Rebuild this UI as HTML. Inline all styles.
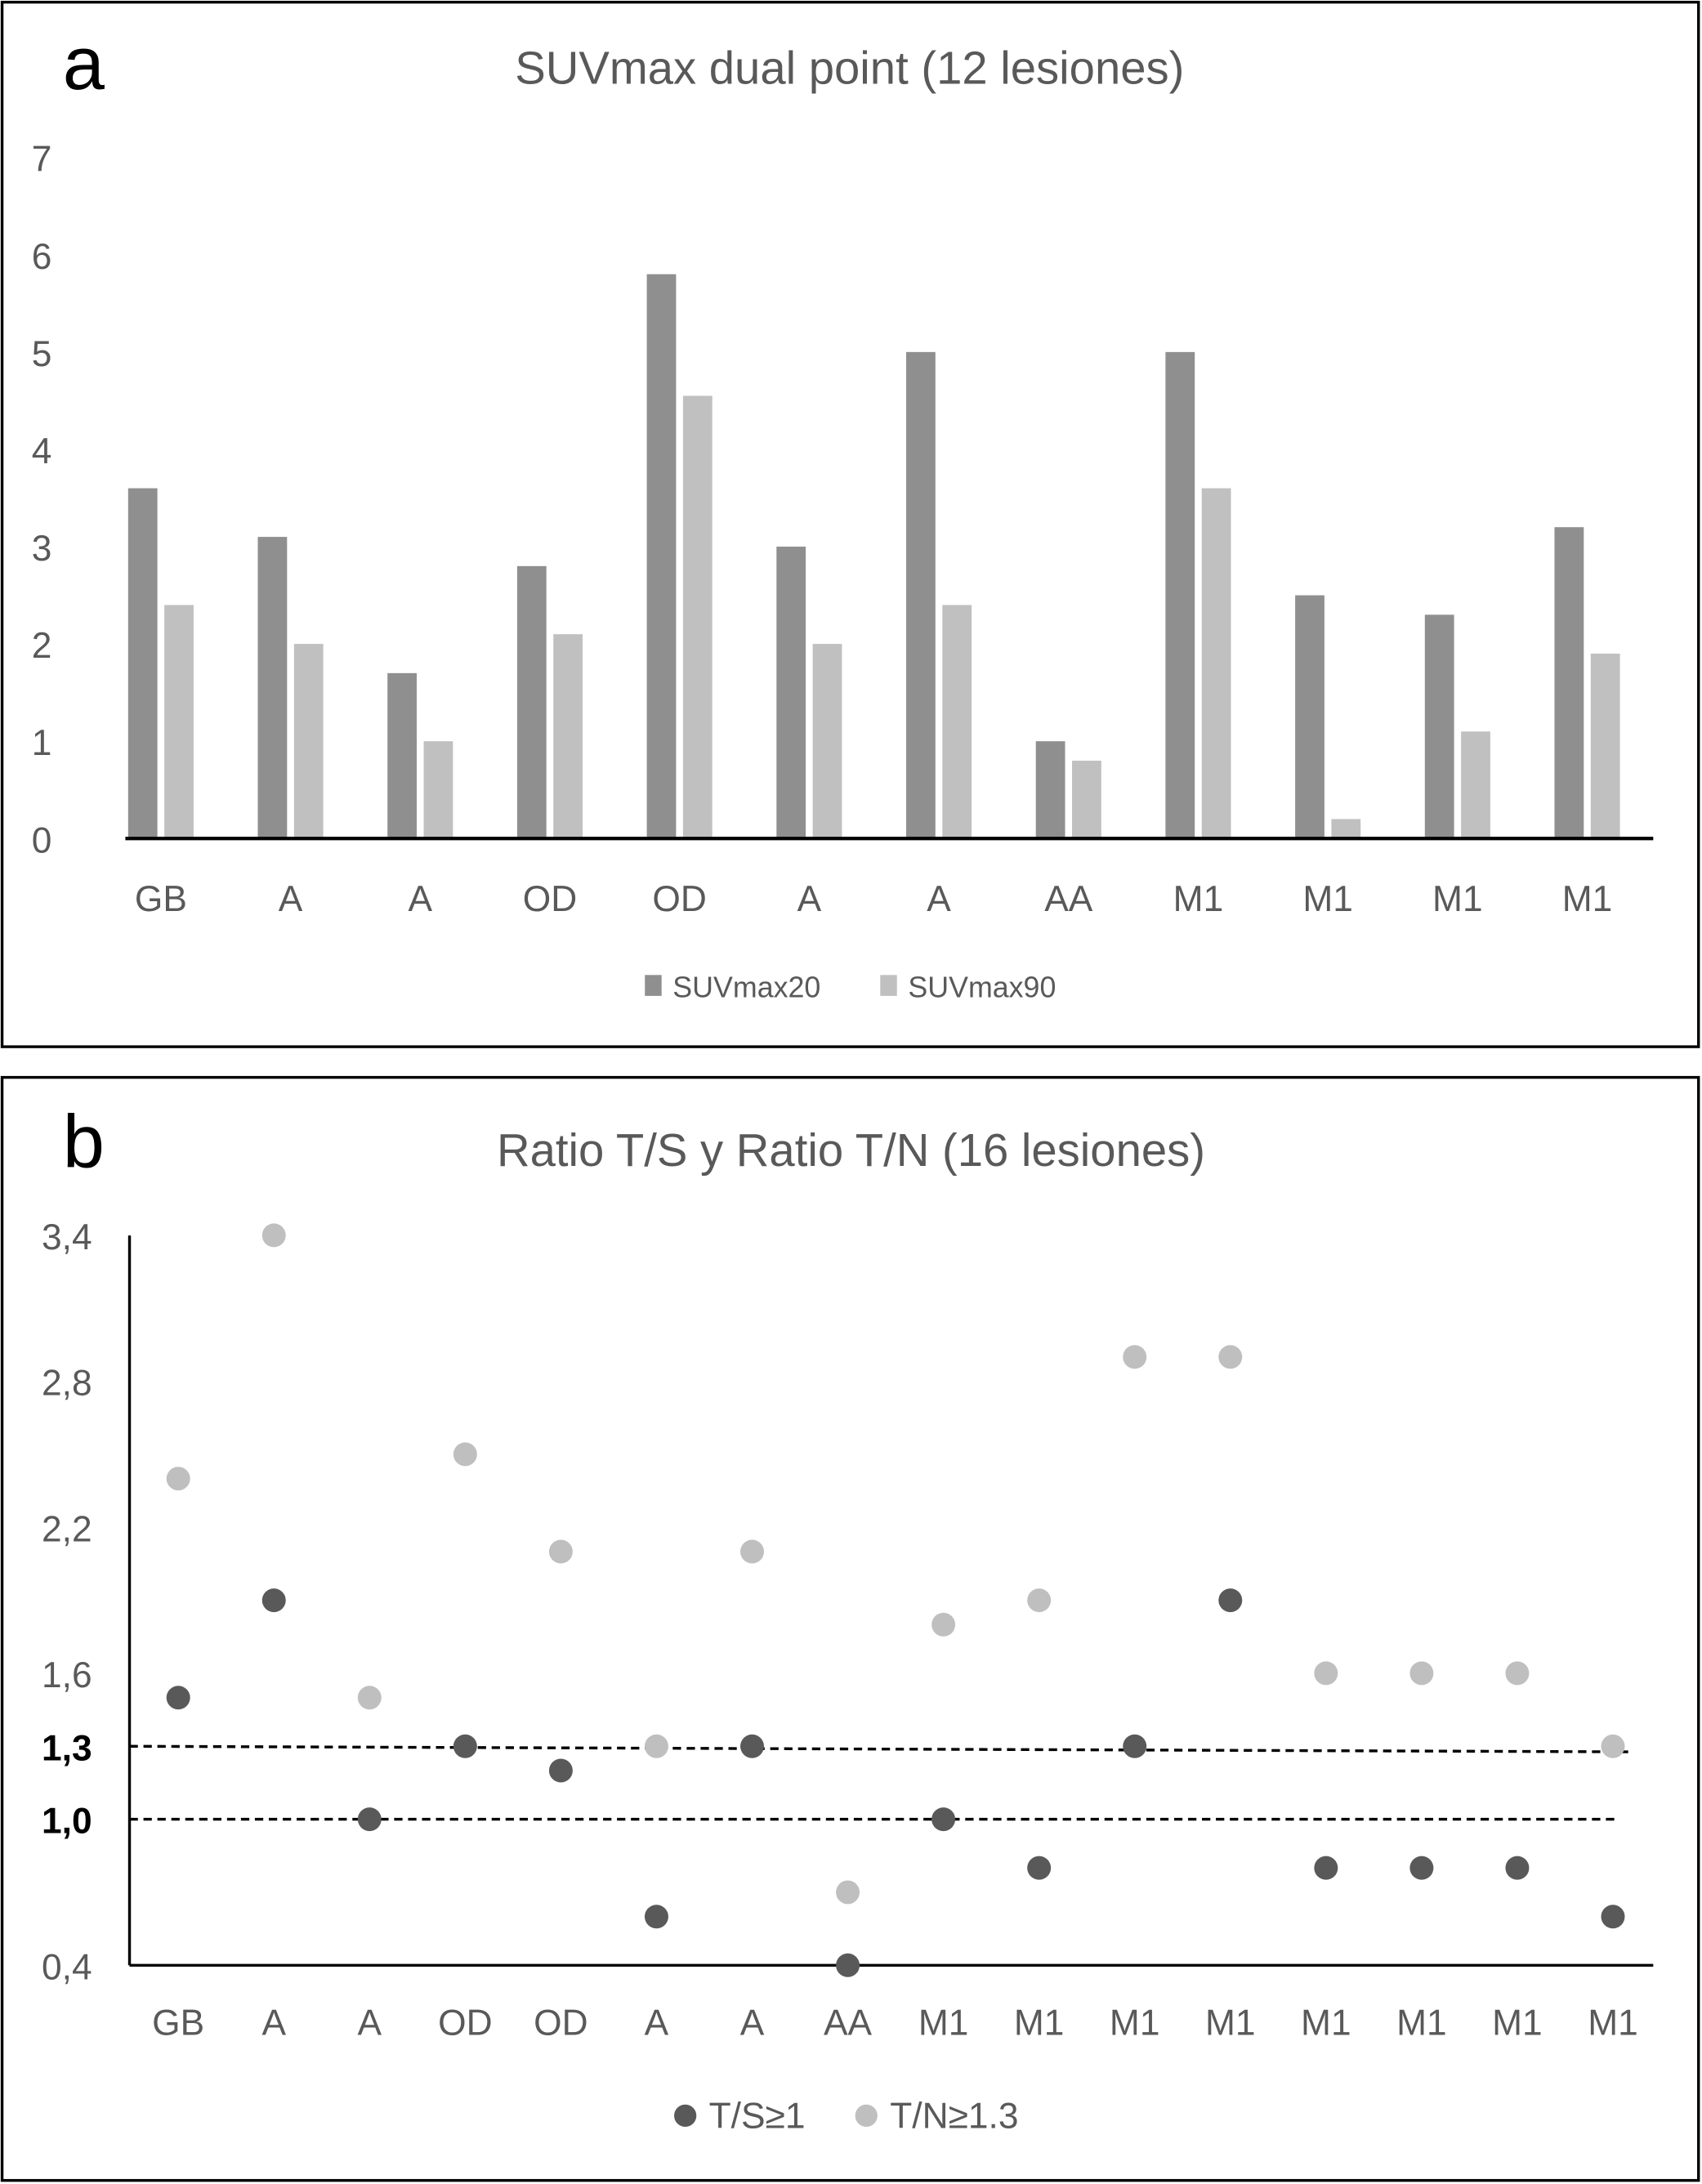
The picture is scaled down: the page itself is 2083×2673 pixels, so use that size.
<!DOCTYPE html>
<html><head><meta charset="utf-8"><style>
html,body{margin:0;padding:0;background:#fff}
svg{display:block}
text{font-family:"Liberation Sans",sans-serif}
</style></head><body>
<svg id="s" width="2083" height="2673" viewBox="0 0 1222 1568" xmlns="http://www.w3.org/2000/svg">
<rect x="1.5" y="1.5" width="1218" height="750" fill="#fff" stroke="#000" stroke-width="2"/>
<rect x="1.5" y="773.5" width="1218" height="792" fill="#fff" stroke="#000" stroke-width="2"/>
<text x="45" y="64" font-size="54" fill="#000">a</text>
<text x="610" y="60" font-size="33" fill="#595959" text-anchor="middle">SUVmax dual point (12 lesiones)</text>
<text x="45" y="838" font-size="54" fill="#000">b</text>
<text x="611" y="837" font-size="33" fill="#595959" text-anchor="middle">Ratio T/S y Ratio T/N (16 lesiones)</text>
<g id="ga"></g><g id="gb"></g>
</svg>
<script>
const catsA=["GB","A","A","OD","OD","A","A","AA","M1","M1","M1","M1"];
const suv20=[3.6,3.1,1.7,2.8,5.8,3.0,5.0,1.0,5.0,2.5,2.3,3.2];
const suv90=[2.4,2.0,1.0,2.1,4.55,2.0,2.4,0.8,3.6,0.2,1.1,1.9];
const ticksA=[0,1,2,3,4,5,6,7];
const catsB=["GB","A","A","OD","OD","A","A","AA","M1","M1","M1","M1","M1","M1","M1","M1"];
const ratioTS=[1.5,1.9,1.0,1.3,1.2,0.6,1.3,0.4,1.0,0.8,1.3,1.9,0.8,0.8,0.8,0.6];
const ratioTN=[2.4,3.4,1.5,2.5,2.1,1.3,2.1,0.7,1.8,1.9,2.9,2.9,1.6,1.6,1.6,1.3];
const ticksB=["3,4","2,8","2,2","1,6","1,3","1,0","0,4"];
const tickValsB=[3.4,2.8,2.2,1.6,1.3,1.0,0.4];
const NS="http://www.w3.org/2000/svg";
function mk(p,t,a,txt){const e=document.createElementNS(NS,t);for(const k in a)e.setAttribute(k,a[k]);if(txt!==undefined)e.textContent=txt;p.appendChild(e);return e;}
// Chart A
const ga=document.getElementById('ga');
const yA=v=>602-v*69.86, xA=i=>115.5+i*93.1;
ticksA.forEach(t=>{const e=mk(ga,'text',{x:30,y:yA(t)+10,'font-size':26,fill:'#595959','text-anchor':'middle'},String(t));

});
catsA.forEach((c,i)=>{
 let b=mk(ga,'rect',{x:xA(i)-23.5,y:yA(suv20[i]),width:21,height:602-yA(suv20[i]),fill:'#8f8f8f'});
 
 
 b=mk(ga,'rect',{x:xA(i)+2.5,y:yA(suv90[i]),width:21,height:602-yA(suv90[i]),fill:'#c0c0c0'});
 
 
 const l=mk(ga,'text',{x:xA(i),y:654,'font-size':26,fill:'#595959','text-anchor':'middle'},c);
 
 
});
let ax=mk(ga,'line',{x1:90,x2:1187,y1:602,y2:602,stroke:'#000','stroke-width':2.5});


let e;
e=mk(ga,'rect',{x:463,y:700,width:12,height:15,fill:'#8f8f8f'});
e=mk(ga,'text',{x:483,y:716,'font-size':21,fill:'#595959'},'SUVmax20');
e=mk(ga,'rect',{x:632,y:700,width:12,height:15,fill:'#c0c0c0'});
e=mk(ga,'text',{x:652,y:716,'font-size':21,fill:'#595959'},'SUVmax90');
// Chart B
const gb=document.getElementById('gb');
const yB=v=>1411-(v-0.4)*174.7, xB=i=>128+i*68.67;
tickValsB.forEach((v,k)=>{const bold=(v===1.3||v===1.0);
 const t=mk(gb,'text',{x:48,y:yB(v)+10,'font-size':26,fill:bold?'#000':'#595959','font-weight':bold?'bold':'normal','text-anchor':'middle'},ticksB[k]);
 
 });
e=mk(gb,'line',{x1:93,x2:1172,y1:yB(1.3),y2:yB(1.3)+4,stroke:'#000','stroke-width':2,'stroke-dasharray':'6,4'});
e=mk(gb,'line',{x1:93,x2:1160,y1:yB(1.0),y2:yB(1.0),stroke:'#000','stroke-width':2,'stroke-dasharray':'6,4'});
e=mk(gb,'line',{x1:93,x2:93,y1:887,y2:1411,stroke:'#000','stroke-width':2});
e=mk(gb,'line',{x1:93,x2:1187,y1:1411,y2:1411,stroke:'#000','stroke-width':2});
catsB.forEach((c,i)=>{
 let p=mk(gb,'circle',{cx:xB(i),cy:yB(ratioTN[i]),r:8.5,fill:'#bfbfbf'});
 
 
 p=mk(gb,'circle',{cx:xB(i),cy:yB(ratioTS[i]),r:8.5,fill:'#595959'});
 
 
 const l=mk(gb,'text',{x:xB(i),y:1461,'font-size':26,fill:'#595959','text-anchor':'middle'},c);
 
 
});
e=mk(gb,'circle',{cx:492,cy:1519,r:8,fill:'#595959'});
e=mk(gb,'text',{x:509,y:1528,'font-size':26,fill:'#595959'},'T/S≥1');
e=mk(gb,'circle',{cx:622,cy:1519,r:8,fill:'#bfbfbf'});
e=mk(gb,'text',{x:639,y:1528,'font-size':26,fill:'#595959'},'T/N≥1.3');
</script>
</body></html>
